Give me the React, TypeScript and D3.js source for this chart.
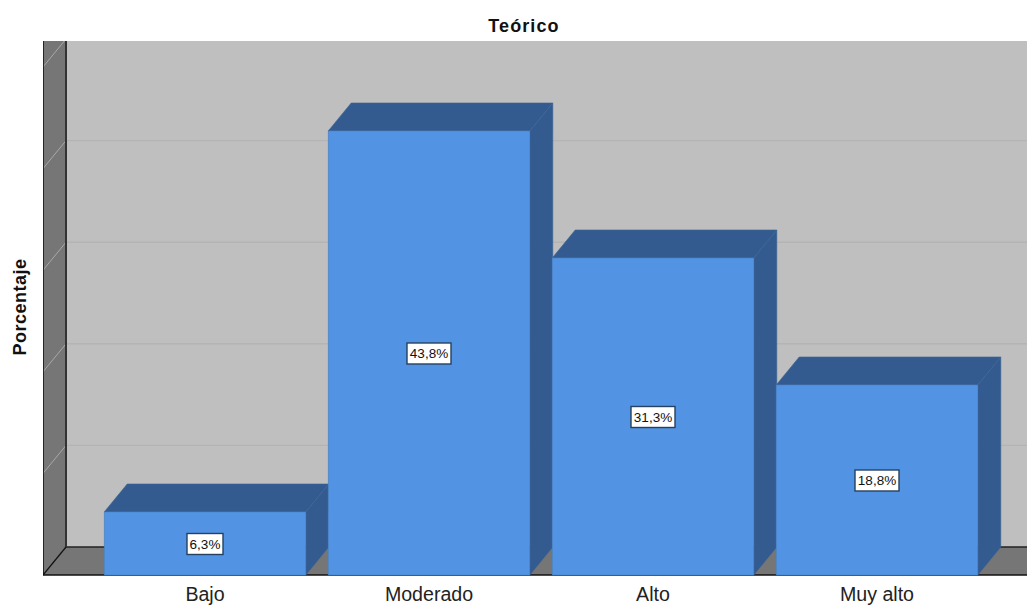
import React from "react";
import * as d3 from "d3";

const categories = ["Bajo", "Moderado", "Alto", "Muy alto"];
const percentages = [6.3, 43.8, 31.3, 18.8];
const percentLabels = ["6,3%", "43,8%", "31,3%", "18,8%"];
const gridTicks = [0, 10, 20, 30, 40, 50];

const W = 1027, H = 605;
const left = 43, right = 1027, top = 41, bottom = 575;
const dx = 23, dy = 28, gridDy = 29;

const x = d3.scaleBand<string>().domain(categories).range([93, 989]).paddingInner(0.1).paddingOuter(0.05);
const y = d3.scaleLinear().domain([0, 50]).range([576, 68]);
const font = "'Liberation Sans', Arial, sans-serif";
const pts = (p: number[][]) => p.map(q => q.join(",")).join(" ");

export default function App() {
  const bw = x.bandwidth();
  return (
    <svg width={W} height={H} viewBox={`0 0 ${W} ${H}`} style={{ position: "absolute", left: 0, top: 0, background: "#fff" }}>
      <defs>
        <clipPath id="plot"><rect x={left} y={top} width={right - left} height={bottom - top + 1} /></clipPath>
      </defs>
      <g clipPath="url(#plot)">
        <rect x={left} y={top} width={right - left} height={bottom - top} fill="#bfbfbf" />
        {/* back wall gridlines */}
        {gridTicks.slice(1).map(t => (
          <line key={t} x1={left + dx} x2={right} y1={y(t) - gridDy} y2={y(t) - gridDy} stroke="#b4b4b4" strokeWidth={1.4} />
        ))}
        {/* left wall */}
        <polygon points={pts([[left, top], [left + dx, top], [left + dx, bottom - dy], [left, bottom]])} fill="#767676" />
        {gridTicks.slice(1).map(t => (
          <line key={t} x1={left} x2={left + dx} y1={y(t) - 1} y2={y(t) - gridDy} stroke="#a8a8a8" strokeWidth={1} />
        ))}
        {/* floor */}
        <polygon points={pts([[left, bottom], [left + dx, bottom - dy], [right, bottom - dy], [right, bottom]])} fill="#767676" />
        <line x1={left + dx} x2={right} y1={bottom - dy} y2={bottom - dy} stroke="#222" strokeWidth={1.4} />
        <line x1={left + dx} x2={left + dx} y1={top} y2={bottom - dy} stroke="#333" strokeWidth={2} />
        <line x1={left} x2={left + dx} y1={bottom} y2={bottom - dy} stroke="#111" strokeWidth={1.2} />
        <line x1={left} x2={left} y1={top} y2={bottom} stroke="#111" strokeWidth={1.6} />
        <line x1={left} x2={right} y1={bottom} y2={bottom} stroke="#111" strokeWidth={1.6} />
        {/* bars */}
        {categories.map((c, i) => {
          const x0 = x(c)!;
          const yT = y(percentages[i]);
          return (
            <g key={c}>
              <polygon points={pts([[x0, yT], [x0 + dx, yT - dy], [x0 + bw + dx, yT - dy], [x0 + bw, yT]])} fill="#345b8f" stroke="#3a6496" strokeWidth={0.6} />
              <polygon points={pts([[x0 + bw, yT], [x0 + bw + dx, yT - dy], [x0 + bw + dx, bottom - dy], [x0 + bw, bottom]])} fill="#345b8f" stroke="#3a6496" strokeWidth={0.6} />
              <rect x={x0} y={yT} width={bw} height={bottom - yT} fill="#5294e3" stroke="#4a7fbe" strokeWidth={0.6} />
            </g>
          );
        })}
      </g>
      {categories.map((c, i) => {
        const cx = x(c)! + bw / 2;
        const cy = (y(percentages[i]) + 576) / 2;
        const w = percentLabels[i].length > 4 ? 44 : 36;
        return (
          <g key={c}>
            <rect x={cx - w / 2} y={cy - 10.5} width={w} height={21} fill="#fff" stroke="#26415f" strokeWidth={1.4} />
            <text x={cx} y={cy + 5} textAnchor="middle" fontFamily={font} fontSize={13.5} fill="#111">{percentLabels[i]}</text>
            <text x={cx} y={601} textAnchor="middle" fontFamily={font} fontSize={19.6} fill="#222">{c}</text>
          </g>
        );
      })}
      <text x={524} y={32} textAnchor="middle" fontFamily={font} fontSize={18} letterSpacing={1.1} fontWeight="bold" fill="#111">Teórico</text>
      <text transform="translate(26,307) rotate(-90)" textAnchor="middle" fontFamily={font} fontSize={18} letterSpacing={0.5} fontWeight="bold" fill="#111">Porcentaje</text>
    </svg>
  );
}
